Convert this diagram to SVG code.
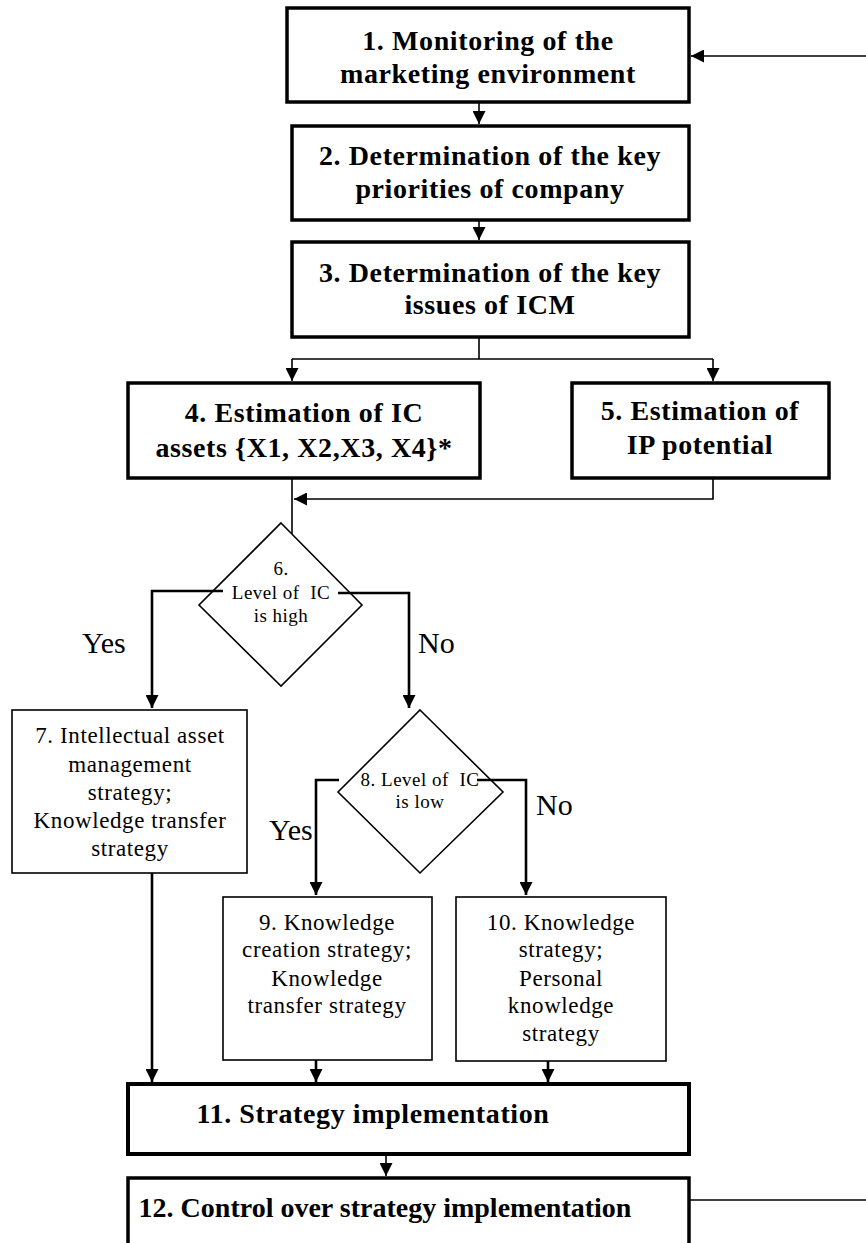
<svg xmlns="http://www.w3.org/2000/svg" width="866" height="1243" viewBox="0 0 866 1243">
<style>
.bold{fill:none;stroke:#000;stroke-width:3.5}
.thin{fill:none;stroke:#000;stroke-width:1.6}
.c1{fill:none;stroke:#000;stroke-width:1.6}
.c2{fill:none;stroke:#000;stroke-width:2.6}
.tb{font-family:"Liberation Serif","Times New Roman",serif;font-weight:bold;font-size:28px;letter-spacing:0.6px;text-anchor:middle;fill:#000}
.tr{font-family:"Liberation Serif","Times New Roman",serif;font-size:23px;letter-spacing:0.6px;text-anchor:middle;fill:#000}
.td{font-family:"Liberation Serif","Times New Roman",serif;font-size:19px;letter-spacing:0.5px;text-anchor:middle;fill:#000}
.lb{font-family:"Liberation Serif","Times New Roman",serif;font-size:30px;fill:#000}
</style>
<defs>
<marker id="ah" viewBox="0 0 13 13" refX="13" refY="6.5" markerWidth="13" markerHeight="13" markerUnits="userSpaceOnUse" orient="auto">
<path d="M0,0 L13,6.5 L0,13 z" fill="#000"/>
</marker>
</defs>
<rect x="0" y="0" width="866" height="1243" fill="#fff"/>
<g id="n1"><rect class="bold" x="287" y="8" width="402" height="94"/>
<text class="tb" x="488" y="50">1. Monitoring of the</text>
<text class="tb" x="488" y="83">marketing environment</text></g>
<g id="n2"><rect class="bold" x="292" y="126" width="397" height="94"/>
<text class="tb" x="490" y="165">2. Determination of the key</text>
<text class="tb" x="490" y="198">priorities of company</text></g>
<g id="n3"><rect class="bold" x="292" y="242" width="397" height="95"/>
<text class="tb" x="490" y="282">3. Determination of the key</text>
<text class="tb" x="490" y="314">issues of ICM</text></g>
<g id="n4"><rect class="bold" x="128" y="383" width="352" height="95"/>
<text class="tb" x="304" y="422">4. Estimation of IC</text>
<text class="tb" x="304" y="457">assets {X1, X2,X3, X4}*</text></g>
<g id="n5"><rect class="bold" x="572" y="383" width="257" height="95"/>
<text class="tb" x="700" y="420">5. Estimation of</text>
<text class="tb" x="700" y="454">IP potential</text></g>
<g id="n6"><polygon class="thin" points="281,523 362,605 281,686 199,605"/>
<text class="td" x="281" y="575">6.</text>
<text class="td" x="281" y="599" xml:space="preserve">Level of  IC</text>
<text class="td" x="281" y="622">is high</text></g>
<g id="n7"><rect class="thin" x="12" y="710" width="235" height="163"/>
<text class="tr" x="130" y="743">7. Intellectual asset</text>
<text class="tr" x="130" y="772">management</text>
<text class="tr" x="130" y="800">strategy;</text>
<text class="tr" x="130" y="828">Knowledge transfer</text>
<text class="tr" x="130" y="856">strategy</text></g>
<g id="n8"><polygon class="thin" points="420,710 503,792 420,873 338,792"/>
<text class="td" x="420" y="786" xml:space="preserve">8. Level of  IC</text>
<text class="td" x="420" y="808">is low</text></g>
<g id="n9"><rect class="thin" x="223" y="897" width="209" height="163"/>
<text class="tr" x="327" y="930">9. Knowledge</text>
<text class="tr" x="327" y="957">creation strategy;</text>
<text class="tr" x="327" y="986">Knowledge</text>
<text class="tr" x="327" y="1013">transfer strategy</text></g>
<g id="n10"><rect class="thin" x="456" y="897" width="210" height="164"/>
<text class="tr" x="561" y="930">10. Knowledge</text>
<text class="tr" x="561" y="957">strategy;</text>
<text class="tr" x="561" y="986">Personal</text>
<text class="tr" x="561" y="1013">knowledge</text>
<text class="tr" x="561" y="1041">strategy</text></g>
<g id="n11"><rect class="bold" style="stroke-width:4" x="128" y="1084" width="561" height="70"/>
<text class="tb" x="373" y="1123">11. Strategy implementation</text></g>
<g id="n12"><rect class="bold" x="128" y="1178" width="561" height="90"/>
<text class="tb" style="letter-spacing:0" x="385" y="1217">12. Control over strategy implementation</text></g>
<g id="labels">
<text class="lb" x="82" y="653">Yes</text>
<text class="lb" x="418" y="653">No</text>
<text class="lb" x="269" y="840">Yes</text>
<text class="lb" x="536" y="815">No</text>
</g>
<g id="connectors">
<path class="c1" d="M866,56 H691" marker-end="url(#ah)"/>
<path class="c1" d="M479,102 V124" marker-end="url(#ah)"/>
<path class="c1" d="M479,220 V240" marker-end="url(#ah)"/>
<path class="c1" d="M479,337 V359 M292,359 H713"/>
<path class="c1" d="M292,359 V381" marker-end="url(#ah)"/>
<path class="c1" d="M713,359 V381" marker-end="url(#ah)"/>
<path class="c1" d="M292,478 V534"/>
<path class="c1" d="M713,478 V499 H294" marker-end="url(#ah)"/>
<path class="c2" d="M223,591 H152 V708" marker-end="url(#ah)"/>
<path class="c2" d="M338,593 H409 V708" marker-end="url(#ah)"/>
<path class="c2" d="M339,780 H316 V895" marker-end="url(#ah)"/>
<path class="c2" d="M477,780 H526 V895" marker-end="url(#ah)"/>
<path class="c2" d="M152,873 V1082" marker-end="url(#ah)"/>
<path class="c2" d="M316,1060 V1082" marker-end="url(#ah)"/>
<path class="c2" d="M548,1061 V1082" marker-end="url(#ah)"/>
<path class="c1" d="M386,1154 V1176" marker-end="url(#ah)"/>
<path class="c1" d="M689,1200 H866"/>
</g>
</svg>
